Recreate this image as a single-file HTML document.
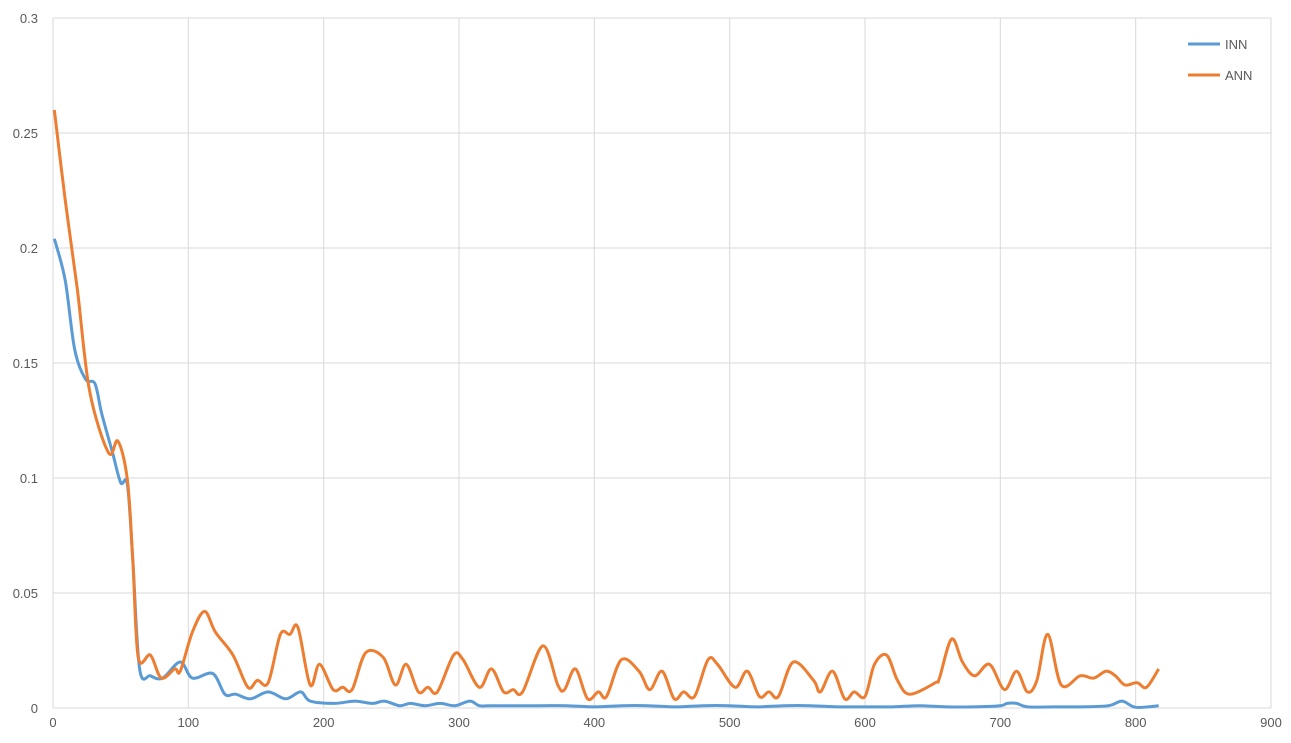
<!DOCTYPE html>
<html><head><meta charset="utf-8"><style>
html,body{margin:0;padding:0;background:#fff;}
svg{display:block;font-family:"Liberation Sans",sans-serif;}
</style></head><body>
<svg id="chart" width="1291" height="743"></svg>
<script>
const xTicks=[0,100,200,300,400,500,600,700,800,900];
const yTicks=[0,0.05,0.1,0.15,0.2,0.25,0.3];
const yTickLabels=["0","0.05","0.1","0.15","0.2","0.25","0.3"];
const seriesNames=["INN","ANN"];
const innX=[1,9,16,24,31,36,44,50,55,59,64,72,81,94,103,118,127,135,146,159,172,183,190,208,223,236,245,256,264,275,286,297,308,315,323,340,360,380,400,420,440,460,480,500,520,540,560,580,600,620,640,660,680,700,705,712,720,740,760,780,790,800,817];
const innY=[0.204,0.186,0.156,0.143,0.141,0.128,0.111,0.098,0.097,0.064,0.017,0.014,0.013,0.020,0.013,0.015,0.006,0.006,0.004,0.007,0.004,0.007,0.003,0.002,0.003,0.002,0.003,0.001,0.002,0.001,0.002,0.001,0.003,0.001,0.001,0.001,0.001,0.001,0.0005,0.001,0.001,0.0005,0.001,0.001,0.0005,0.001,0.001,0.0005,0.0005,0.0005,0.001,0.0005,0.0005,0.001,0.002,0.002,0.0005,0.0005,0.0005,0.001,0.003,0.0003,0.001];
const annX=[1,9,18,27,41,48,55,59,63,72,80,90,94,103,112,120,133,144,151,159,168,175,181,190,197,207,214,221,231,244,253,261,270,277,284,296,303,315,324,333,340,347,362,373,378,386,395,403,409,420,433,441,450,459,466,474,484,491,504,513,522,529,536,547,562,567,576,585,592,600,607,616,624,633,652,655,664,672,681,692,703,712,720,727,735,745,759,769,778,785,792,801,808,817];
const annY=[0.26,0.221,0.182,0.138,0.111,0.116,0.099,0.064,0.022,0.023,0.013,0.017,0.016,0.033,0.042,0.033,0.023,0.009,0.012,0.011,0.032,0.032,0.035,0.010,0.019,0.008,0.009,0.008,0.024,0.022,0.010,0.019,0.007,0.009,0.007,0.023,0.021,0.009,0.017,0.007,0.008,0.007,0.027,0.010,0.008,0.017,0.004,0.007,0.005,0.021,0.016,0.008,0.016,0.004,0.007,0.005,0.021,0.019,0.009,0.016,0.005,0.007,0.005,0.020,0.012,0.007,0.016,0.004,0.007,0.005,0.019,0.023,0.012,0.006,0.011,0.013,0.030,0.020,0.014,0.019,0.008,0.016,0.007,0.012,0.032,0.010,0.014,0.013,0.016,0.014,0.010,0.011,0.009,0.017];

const NS="http://www.w3.org/2000/svg";
const svg=document.getElementById('chart');
const X0=53,X1=1271,Y0=708,Y1=18;
const sx=v=>X0+(v/900)*(X1-X0);
const sy=v=>Y0-(v/0.3)*(Y0-Y1);
function mk(t,a){const e=document.createElementNS(NS,t);for(const k in a)e.setAttribute(k,a[k]);svg.appendChild(e);return e;}
xTicks.forEach(t=>{
  const g=mk('line',{x1:sx(t),x2:sx(t),y1:Y1,y2:Y0,stroke:'#d9d9d9','stroke-width':1});
  
  
  const l=mk('text',{x:sx(t),y:727,'text-anchor':'middle','font-size':13,fill:'#595959'});
  l.textContent=t;
  
  
});
yTicks.forEach((t,i)=>{
  const g=mk('line',{x1:X0,x2:X1,y1:sy(t),y2:sy(t),stroke:'#d9d9d9','stroke-width':1});
  
  
  const l=mk('text',{x:38,y:sy(t)+5,'text-anchor':'end','font-size':13,fill:'#595959'});
  l.textContent=yTickLabels[i];
  
  
});
function path(xs,ys){
  const p=xs.map((x,i)=>[sx(x),sy(ys[i])]);
  let d='M'+p[0][0]+','+p[0][1];
  for(let i=0;i<p.length-1;i++){
    const a=p[Math.max(0,i-1)],b=p[i],c=p[i+1],e=p[Math.min(p.length-1,i+2)];
    const k=1/6;
    d+=' C'+(b[0]+(c[0]-a[0])*k)+','+(b[1]+(c[1]-a[1])*k)+' '+(c[0]-(e[0]-b[0])*k)+','+(c[1]-(e[1]-b[1])*k)+' '+c[0]+','+c[1];
  }
  return d;
}
const inn=mk('path',{d:path(innX,innY),fill:'none',stroke:'#5b9bd5','stroke-width':3,'stroke-linejoin':'round'});


const ann=mk('path',{d:path(annX,annY),fill:'none',stroke:'#ed7d31','stroke-width':3,'stroke-linejoin':'round'});


const cols=['#5b9bd5','#ed7d31'];
seriesNames.forEach((n,i)=>{
  const y=44+i*31;
  const l=mk('line',{x1:1188,x2:1220,y1:y,y2:y,stroke:cols[i],'stroke-width':3});
  
  
  const t=mk('text',{x:1225,y:y+5,'font-size':13,fill:'#595959'});
  t.textContent=n;
  
  
});
</script>
</body></html>
